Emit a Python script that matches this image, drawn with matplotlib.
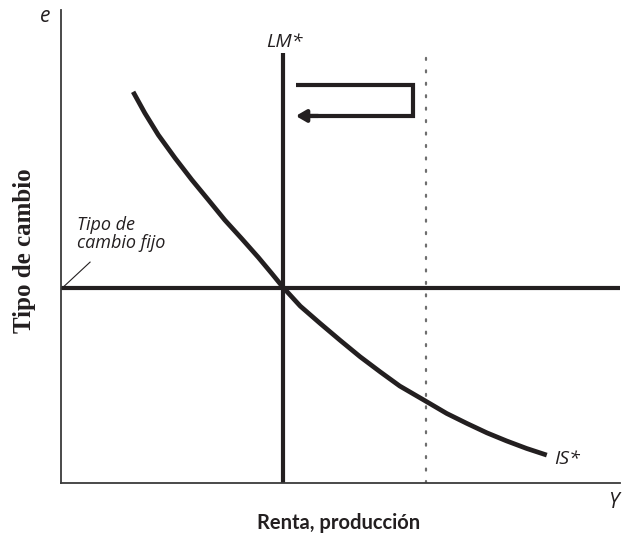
import matplotlib
matplotlib.use("Agg")
import matplotlib.pyplot as plt

# ---- data (arbitrary units) ----
is_output = [1.29, 1.50, 1.74, 2.04, 2.34, 2.64, 2.93, 3.23, 3.53, 3.77, 3.97,
             4.28, 4.63, 4.99, 5.35, 5.71, 6.06, 6.54, 6.90, 7.26, 7.62, 7.97,
             8.33, 8.69]
is_rate = [8.27, 7.82, 7.36, 6.87, 6.41, 5.98, 5.56, 5.17, 4.77, 4.43, 4.14,
           3.74, 3.38, 3.02, 2.67, 2.35, 2.05, 1.72, 1.47, 1.26, 1.06, 0.89,
           0.73, 0.59]
lm_output = 3.97
lm_top = 9.09
fixed_rate = 4.12
dotted_output = 6.53
arrow_left, arrow_right = 4.20, 6.30
arrow_top, arrow_bottom = 8.41, 7.76

W, H = 623, 536
fig = plt.figure(figsize=(W / 100, H / 100), dpi=100)
ax = fig.add_axes([61 / W, (H - 483) / H, 559 / W, 473 / H])
ax.set_xlim(0, 10)
ax.set_ylim(0, 10)
for s in ["top", "right"]:
    ax.spines[s].set_visible(False)
for s in ["left", "bottom"]:
    ax.spines[s].set_linewidth(1.3)
    ax.spines[s].set_color("#3a3a3a")
ax.set_xticks([])
ax.set_yticks([])

dark = "#231f20"
LW = 3.0
sans = "Open Sans"

# dotted line
ax.plot([dotted_output, dotted_output], [0, lm_top], color="#6e6e6e", lw=1.6,
        ls=(0, (0.9, 4.7)), dash_capstyle="round", zorder=1)
# fixed exchange rate
ax.plot([0, 10], [fixed_rate, fixed_rate], color=dark, lw=LW, solid_capstyle="butt", zorder=2)
# LM*
ax.plot([lm_output, lm_output], [0, lm_top], color=dark, lw=LW, solid_capstyle="butt", zorder=2)
# IS*
ax.plot(is_output, is_rate, color=dark, lw=LW + 0.4, solid_capstyle="butt",
        solid_joinstyle="round", zorder=3)

# arrow path
ax.plot([arrow_left, arrow_right, arrow_right, arrow_left + 0.25],
        [arrow_top, arrow_top, arrow_bottom, arrow_bottom],
        color=dark, lw=LW, solid_joinstyle="miter", solid_capstyle="butt", zorder=3)
ax.annotate("", xy=(arrow_left, arrow_bottom), xytext=(arrow_left + 0.4, arrow_bottom),
            arrowprops=dict(arrowstyle="-|>,head_length=0.6,head_width=0.35",
                            color=dark, lw=LW, shrinkA=0, shrinkB=0), zorder=3)

# leader line for fixed rate label
ax.plot([0.02, 0.52], [fixed_rate, 4.67], color=dark, lw=0.8, zorder=3)

# labels
ax.text(0.29, 5.27, "Tipo de\ncambio fijo", family=sans, style="italic", fontsize=13,
        ha="left", va="center", linespacing=1.0, color=dark)
ax.text(lm_output + 0.03, 9.33, "LM*", family=sans, style="italic", fontsize=14,
        ha="center", va="center", color=dark)
ax.text(8.83, 0.50, "IS*", family=sans, style="italic", fontsize=14,
        ha="left", va="center", color=dark)
fig.text(613 / W, 1 - 503 / H, "Y", family=sans, style="italic", fontsize=15,
         ha="center", va="center", color=dark)
fig.text(45 / W, 1 - 16 / H, "e", family=sans, style="italic", fontsize=15,
         ha="center", va="center", color=dark)

fig.text(339 / W, 1 - 523 / H, "Renta, producción", family="Lato", weight="bold",
         fontsize=14.5, ha="center", va="center", color=dark)
fig.text(25 / W, 1 - 251 / H, "Tipo de cambio", family="Liberation Serif", weight="bold",
         fontsize=18, ha="center", va="center", rotation=90, color=dark)

fig.savefig("out.png", dpi=100)
